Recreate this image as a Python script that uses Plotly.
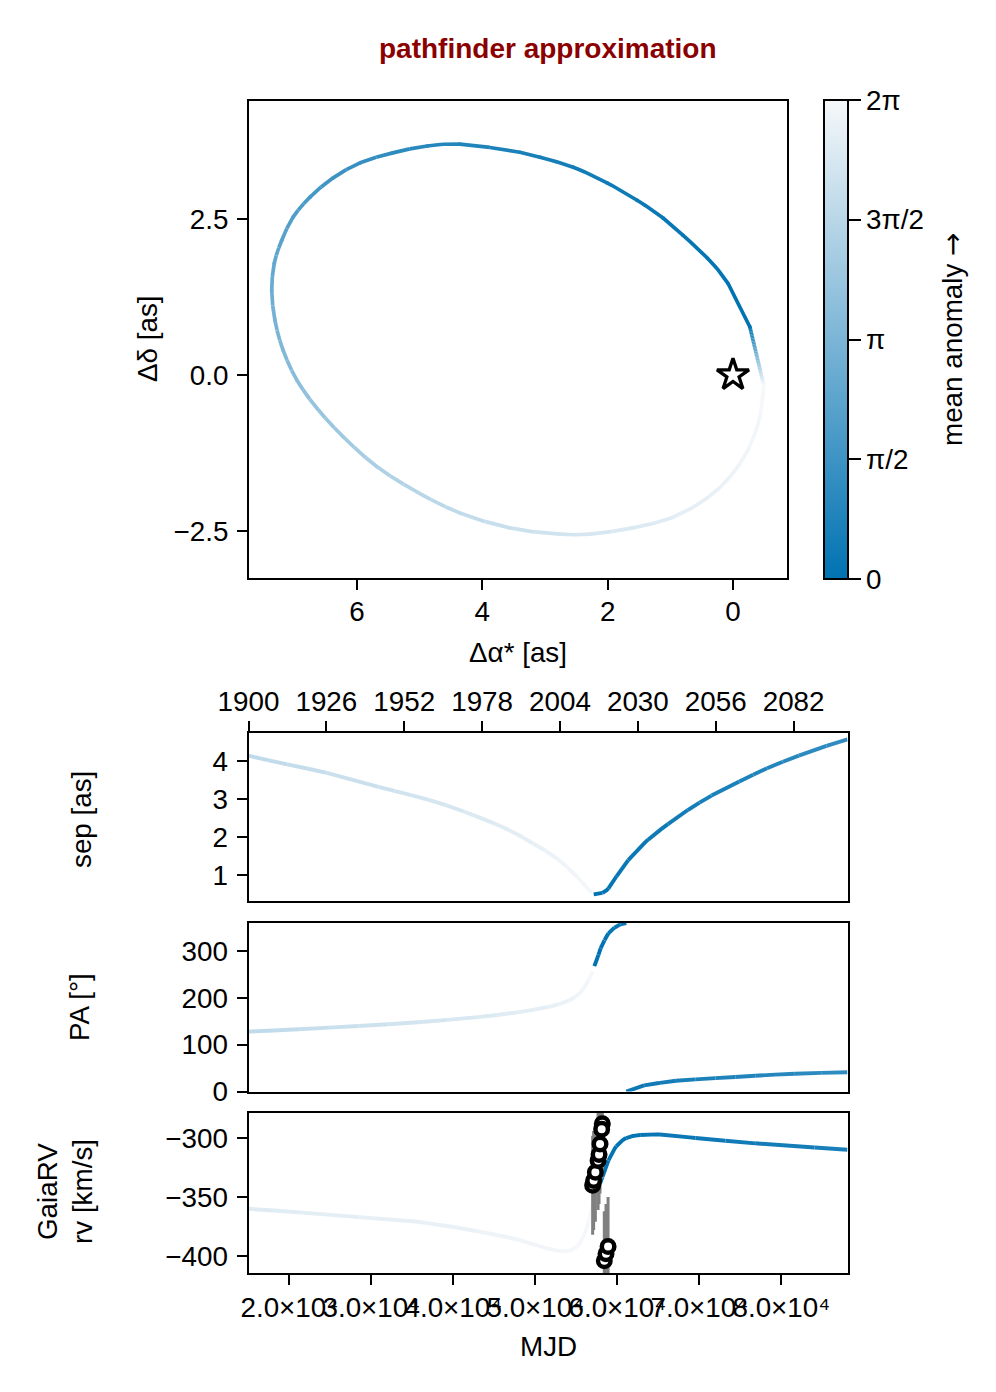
import numpy as np
import plotly.graph_objects as go

W, H = 996, 1392
FONT = "Liberation Sans"
FS = 27.8

# colour scale endpoints
COLOR_LOW = (0, 114, 178)
COLOR_HIGH = (246, 248, 250)

# Orbit: dRA [as], dDec [as], phase = mean anomaly / 2 pi
orbit_ra = [-0.27, 0.08, 0.41, 0.80, 1.12, 1.53, 2.01, 2.55, 3.08, 3.40, 4.36, 4.88, 5.43, 5.95, 6.38, 6.75,
            7.02, 7.20, 7.32, 7.36, 7.31, 7.18, 6.96, 6.64, 6.22, 5.68, 5.04, 4.36, 3.56, 2.76, 2.28, 1.60,
            0.96, 0.41, 0.05, -0.24, -0.43, -0.49]
orbit_dec = [0.77, 1.47, 1.875, 2.24, 2.52, 2.80, 3.08, 3.33, 3.49, 3.57, 3.70, 3.67, 3.56, 3.40, 3.16, 2.85,
             2.53, 2.16, 1.79, 1.36, 0.88, 0.40, -0.08, -0.53, -0.99, -1.47, -1.875, -2.21, -2.45, -2.55, -2.55, -2.45,
             -2.28, -1.97, -1.635, -1.20, -0.67, -0.16]
orbit_phase = [0.0, 0.012, 0.02, 0.03, 0.04, 0.05, 0.065, 0.08, 0.095, 0.105, 0.14, 0.16, 0.19, 0.22, 0.25, 0.29,
               0.33, 0.36, 0.40, 0.44, 0.48, 0.52, 0.56, 0.61, 0.65, 0.70, 0.74, 0.78, 0.82, 0.85, 0.87, 0.89,
               0.92, 0.94, 0.96, 0.98, 0.99, 1.0]

# Separation
sep_mjd_a = [15020, 19740, 24570, 30870, 34730, 39090, 43440, 46830, 49730, 52630, 55050, 56900]
sep_val_a = [4.14, 3.91, 3.69, 3.32, 3.11, 2.84, 2.49, 2.18, 1.83, 1.44, 0.96, 0.53]
sep_phase_a = [0.77, 0.79, 0.81, 0.83, 0.85, 0.87, 0.89, 0.915, 0.94, 0.965, 0.985, 1.0]
sep_mjd_w = [56900, 57120]
sep_val_w = [0.53, 0.49]
sep_phase_w = [1.0, 0.0]
sep_mjd_b = [57120, 58190, 58920, 59880, 61330, 63750, 66170, 68590, 71490, 74880, 78260, 82130, 85510, 88069]
sep_val_b = [0.49, 0.53, 0.65, 0.96, 1.39, 1.93, 2.34, 2.71, 3.09, 3.46, 3.81, 4.14, 4.40, 4.57]
sep_phase_b = [0.0, 0.005, 0.02, 0.03, 0.04, 0.05, 0.065, 0.08, 0.10, 0.12, 0.14, 0.17, 0.19, 0.2]

# Position angle
pa_mjd_a = [15020, 21190, 28450, 35700, 42950, 47790, 51660, 54070, 55520, 56490, 57000]
pa_val_a = [128, 133, 140, 148, 159, 169, 181, 194, 212, 238, 256]
pa_phase_a = [0.77, 0.80, 0.83, 0.86, 0.89, 0.915, 0.94, 0.96, 0.98, 0.99, 1.0]
pa_mjd_w = [57000, 57200]
pa_val_w = [256, 268]
pa_phase_w = [1.0, 0.0]
pa_mjd_b = [57200, 57700, 57960, 58430, 58920, 59640, 60370, 61090]
pa_val_b = [268, 292, 306, 323, 338, 350, 357, 360]
pa_phase_b = [0.0, 0.005, 0.008, 0.015, 0.02, 0.03, 0.035, 0.04]
pa_mjd_c = [61090, 63270, 65210, 67140, 74390, 81650, 88069]
pa_val_c = [0, 13, 18.5, 23, 31, 38, 41]
pa_phase_c = [0.04, 0.06, 0.075, 0.09, 0.13, 0.17, 0.2]

# Radial velocity model
rv_mjd_a = [15020, 21190, 28450, 35700, 42950, 47790, 51180, 53350, 54800, 55770, 56500, 56980, 57200]
rv_val_a = [-360, -363, -367, -371, -379, -386, -393, -396, -393.5, -385, -371, -357, -352]
rv_phase_a = [0.90, 0.92, 0.93, 0.945, 0.96, 0.975, 0.985, 0.99, 0.995, 0.997, 0.998, 0.999, 1.0]
rv_mjd_w = [57200, 57700]
rv_val_w = [-352, -342]
rv_phase_w = [1.0, 0.0]
rv_mjd_b = [57700, 58190, 58920, 59880, 61090, 62780, 65200, 69550, 76810, 84060, 88069]
rv_val_b = [-342, -333, -319, -307, -300, -297.5, -297, -300, -304.5, -308, -310]
rv_phase_b = [0.0, 0.002, 0.005, 0.01, 0.015, 0.025, 0.04, 0.05, 0.07, 0.09, 0.1]

# Gaia RV epochs
gaia_mjd = [58170, 56990, 57110, 57320, 57650, 57770, 57890, 58090, 58410, 58620, 58870]
gaia_rv = [-288, -340, -336, -329, -319, -314, -305, -292.6, -404, -398, -392]
gaia_err = [42, 42, 42, 42, 42, 42, 42, 42, 42, 42, 42]

year_ticks = [1900, 1926, 1952, 1978, 2004, 2030, 2056, 2082]
mjd_ticks = [20000, 30000, 40000, 50000, 60000, 70000, 80000]
mjd_labels = ["2.0×10⁴", "3.0×10⁴", "4.0×10⁴", "5.0×10⁴", "6.0×10⁴", "7.0×10⁴", "8.0×10⁴"]
cbar_ticks = [0, 0.25, 0.5, 0.75, 1]
cbar_labels = ["0", "π/2", "π", "3π/2", "2π"]


def col(t):
    c = [round(a + (b - a) * t) for a, b in zip(COLOR_LOW, COLOR_HIGH)]
    return f"rgb({c[0]},{c[1]},{c[2]})"


fig = go.Figure()


def colored(xs, ys, ts, xa, ya, scale, closed=False, lw=3.9):
    """One trace per colour band; the read points are joined by a smooth Hermite curve."""
    xs, ys, ts = np.array(xs, float), np.array(ys, float), np.array(ts, float)
    p = np.column_stack([xs * scale[0], ys * scale[1]])
    n = len(p)
    d = np.maximum(np.linalg.norm(np.diff(p, axis=0), axis=1), 1e-6)
    for i in range(n - 1):
        m0 = (p[i + 1] - p[i]) if i == 0 else (p[i + 1] - p[i - 1]) * d[i] / (d[i - 1] + d[i])
        m1 = (p[i + 1] - p[i]) if i == n - 2 else (p[i + 2] - p[i]) * d[i] / (d[i] + d[i + 1])
        bands = max(1, int(np.ceil(abs(ts[i + 1] - ts[i]) / 0.02)))
        for k in range(bands):
            u = np.linspace(k / bands, (k + 1) / bands, 7)
            h00 = 2 * u**3 - 3 * u**2 + 1
            h10 = u**3 - 2 * u**2 + u
            h01 = -2 * u**3 + 3 * u**2
            h11 = u**3 - u**2
            q = np.outer(h00, p[i]) + np.outer(h10, m0) + np.outer(h01, p[i + 1]) + np.outer(h11, m1)
            fig.add_trace(go.Scatter(
                x=q[:, 0] / scale[0], y=q[:, 1] / scale[1],
                mode="lines", xaxis=xa, yaxis=ya, showlegend=False, hoverinfo="skip",
                line=dict(color=col(ts[i] + (ts[i + 1] - ts[i]) * (k + 0.5) / bands), width=lw),
            ))
    if closed:
        bands = 40
        for k in range(bands):
            f0, f1 = k / bands, (k + 1) / bands
            fig.add_trace(go.Scatter(
                x=[xs[-1] + (xs[0] - xs[-1]) * f0, xs[-1] + (xs[0] - xs[-1]) * f1],
                y=[ys[-1] + (ys[0] - ys[-1]) * f0, ys[-1] + (ys[0] - ys[-1]) * f1],
                mode="lines", xaxis=xa, yaxis=ya, showlegend=False, hoverinfo="skip",
                line=dict(color=col(ts[-1] + (ts[0] - ts[-1]) * (f0 + f1) / 2), width=lw),
            ))


S_ORB = (62.67, 62.4)
S_MJD = 82 / 10000
colored(orbit_ra, orbit_dec, orbit_phase, "x", "y", S_ORB, closed=True, lw=3.7)
fig.add_trace(go.Scatter(
    x=orbit_ra, y=orbit_dec, mode="markers", xaxis="x", yaxis="y", showlegend=False, hoverinfo="skip",
    marker=dict(size=3.7, color=orbit_phase, coloraxis="coloraxis", line=dict(width=0)),
))
fig.add_trace(go.Scatter(
    x=[0], y=[0], mode="markers", xaxis="x", yaxis="y", showlegend=False, hoverinfo="skip",
    marker=dict(symbol="star", size=24, color="white", line=dict(color="black", width=3.3)),
))

colored(sep_mjd_a, sep_val_a, sep_phase_a, "x2", "y2", (S_MJD, 38))
colored(sep_mjd_w, sep_val_w, sep_phase_w, "x2", "y2", (S_MJD, 38))
colored(sep_mjd_b, sep_val_b, sep_phase_b, "x2", "y2", (S_MJD, 38))
colored(pa_mjd_a, pa_val_a, pa_phase_a, "x3", "y3", (S_MJD, 0.47))
colored(pa_mjd_w, pa_val_w, pa_phase_w, "x3", "y3", (S_MJD, 0.47))
colored(pa_mjd_b, pa_val_b, pa_phase_b, "x3", "y3", (S_MJD, 0.47))
colored(pa_mjd_c, pa_val_c, pa_phase_c, "x3", "y3", (S_MJD, 0.47))
colored(rv_mjd_a, rv_val_a, rv_phase_a, "x4", "y4", (S_MJD, 1.18))
colored(rv_mjd_w, rv_val_w, rv_phase_w, "x4", "y4", (S_MJD, 1.18))
colored(rv_mjd_b, rv_val_b, rv_phase_b, "x4", "y4", (S_MJD, 1.18))
fig.add_trace(go.Scatter(
    x=gaia_mjd, y=gaia_rv, mode="markers", xaxis="x4", yaxis="y4", showlegend=False, hoverinfo="skip",
    error_y=dict(type="data", array=gaia_err, color="#808080", thickness=3, width=0),
    marker=dict(size=12.5, color="white", line=dict(color="black", width=4.5)),
))


def dx(a, b):
    return [a / W, b / W]


def dy(top, bottom):
    return [1 - bottom / H, 1 - top / H]


tick = dict(ticks="outside", ticklen=10, tickwidth=2, tickcolor="black", tickangle=0, automargin=False,
            tickfont=dict(family=FONT, size=FS, color="black"), showgrid=False, zeroline=False,
            showline=True, linecolor="black", linewidth=2, mirror=True)

MJD_MIN, MJD_MAX = 15020, 88069
year_mjd = [MJD_MIN + (y - 1900) * 365.25 for y in year_ticks]

layout_axes = dict(
    xaxis=dict(domain=dx(249, 787), anchor="y", range=[7.723, -0.862], tickvals=[6, 4, 2, 0],
               ticktext=["6", "4", "2", "0"], ticklabelstandoff=-2, **tick),
    yaxis=dict(domain=dy(101, 578), anchor="x", range=[-3.253, 4.391], tickvals=[-2.5, 0, 2.5],
               ticktext=["−2.5", "0.0", "2.5"], ticklabelstandoff=3, **tick),
    xaxis2=dict(domain=dx(248.5, 847.5), anchor="y2", side="top", range=[MJD_MIN, MJD_MAX], tickvals=year_mjd,
                ticktext=[str(y) for y in year_ticks], ticklabelstandoff=-1, **tick),
    yaxis2=dict(domain=dy(733, 901), anchor="x2", range=[0.316, 4.737], tickvals=[1, 2, 3, 4],
                ticktext=["1", "2", "3", "4"], ticklabelstandoff=3, **tick),
    xaxis3=dict(domain=dx(248.5, 847.5), anchor="y3", range=[MJD_MIN, MJD_MAX], showticklabels=False,
                **{**tick, "ticks": ""}),
    yaxis3=dict(domain=dy(923, 1091.5), anchor="x3", range=[0, 360], tickvals=[0, 100, 200, 300],
                ticktext=["0", "100", "200", "300"], ticklabelstandoff=3, **tick),
    xaxis4=dict(domain=dx(248.5, 847.5), anchor="y4", range=[MJD_MIN, MJD_MAX], tickvals=mjd_ticks,
                ticktext=mjd_labels, ticklabelstandoff=-1, **tick),
    yaxis4=dict(domain=dy(1113, 1273), anchor="x4", range=[-414.4, -278.8], tickvals=[-400, -350, -300],
                ticktext=["−400", "−350", "−300"], ticklabelstandoff=3, **tick),
)


def label(text, x, y, rot=0, **kw):
    f = dict(family=FONT, size=FS, color="black")
    f.update(kw)
    return dict(text=text, x=x / W, y=1 - y / H, xref="paper", yref="paper", showarrow=False,
                xanchor="center", yanchor="middle", textangle=rot, font=f, align="center")


annotations = [
    label("Δα* [as]", 518, 652),
    label("Δδ [as]", 148, 339, -90),
    label("sep [as]", 81, 820, -90),
    label("PA [°]", 79, 1007, -90),
    label("GaiaRV", 47, 1192, -90),
    label("rv [km/s]", 82, 1192, -90),
    label("MJD", 548, 1346),
    label("mean anomaly <span style=\"font-family:'DejaVu Sans'\">→</span>", 953, 340, -90),
    label("<b>pathfinder approximation</b>", 548, 48.5, color="#8B0000", size=28),
]

fig.update_layout(
    template="none",
    width=W, height=H, margin=dict(l=0, r=0, t=0, b=0), autosize=False,
    paper_bgcolor="white", plot_bgcolor="white", showlegend=False,
    annotations=annotations,
    coloraxis=dict(
        cmin=0, cmax=1, colorscale=[[0, col(0)], [1, col(1)]],
        colorbar=dict(
            x=824 / W, xanchor="left", xpad=0, y=1 - 100 / H, yanchor="top", ypad=0,
            len=479 / H, lenmode="fraction", thickness=24, thicknessmode="pixels",
            outlinecolor="black", outlinewidth=2, tickvals=cbar_ticks, ticktext=cbar_labels,
            ticks="outside", ticklen=12, tickwidth=2, tickcolor="black",
            tickfont=dict(family=FONT, size=FS, color="black"),
        ),
    ),
    **layout_axes,
)

fig.write_html("out.html", post_script="document.body.style.margin='0';",
               config={"displayModeBar": False})
